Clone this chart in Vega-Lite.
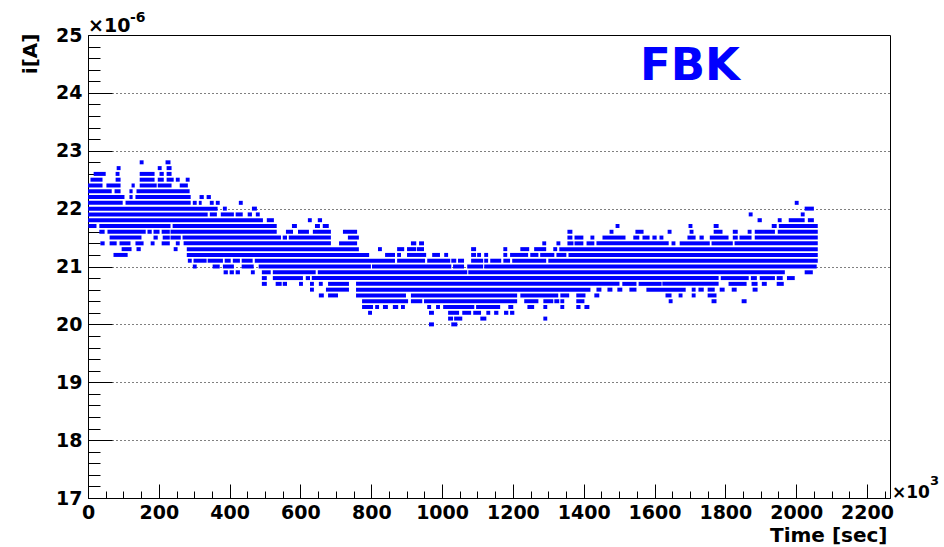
{
  "$schema": "https://vega.github.io/schema/vega-lite/v6.json",
  "autosize": {"type": "none"},
  "padding": {"left": 88, "top": 35, "right": 54, "bottom": 49},
  "width": 802,
  "height": 463,
  "background": "white",
  "config": {"view": {"stroke": "#000000", "strokeWidth": 1}},
  "layer": [
    {
      "data": {"values": [
        {"i":22.8,"t0":146,"t1":157},{"i":22.8,"t0":219,"t1":233},
        {"i":22.7,"t0":81,"t1":92},{"i":22.7,"t0":197,"t1":208},{"i":22.7,"t0":222,"t1":236},
        {"i":22.6,"t0":16,"t1":50},{"i":22.6,"t0":78,"t1":89},{"i":22.6,"t0":146,"t1":188},{"i":22.6,"t0":202,"t1":214},{"i":22.6,"t0":222,"t1":236},
        {"i":22.5,"t0":7,"t1":41},{"i":22.5,"t0":78,"t1":92},{"i":22.5,"t0":146,"t1":188},{"i":22.5,"t0":197,"t1":214},{"i":22.5,"t0":222,"t1":242},{"i":22.5,"t0":248,"t1":259},{"i":22.5,"t0":276,"t1":287},
        {"i":22.4,"t0":0,"t1":41},{"i":22.4,"t0":52,"t1":92},{"i":22.4,"t0":123,"t1":132},{"i":22.4,"t0":146,"t1":194},{"i":22.4,"t0":197,"t1":236},{"i":22.4,"t0":259,"t1":282},
        {"i":22.3,"t0":0,"t1":67},{"i":22.3,"t0":75,"t1":92},{"i":22.3,"t0":117,"t1":126},{"i":22.3,"t0":137,"t1":287},
        {"i":22.2,"t0":0,"t1":103},{"i":22.2,"t0":117,"t1":126},{"i":22.2,"t0":134,"t1":290},{"i":22.2,"t0":315,"t1":327},{"i":22.2,"t0":335,"t1":347},
        {"i":22.1,"t0":0,"t1":98},{"i":22.1,"t0":106,"t1":290},{"i":22.1,"t0":296,"t1":307},{"i":22.1,"t0":313,"t1":321},{"i":22.1,"t0":344,"t1":355},{"i":22.1,"t0":361,"t1":372},{"i":22.1,"t0":426,"t1":437},{"i":22.1,"t0":1996,"t1":2007},
        {"i":22.0,"t0":0,"t1":366},{"i":22.0,"t0":381,"t1":392},{"i":22.0,"t0":463,"t1":477},{"i":22.0,"t0":2024,"t1":2050},
        {"i":21.9,"t0":0,"t1":338},{"i":21.9,"t0":344,"t1":364},{"i":21.9,"t0":375,"t1":412},{"i":21.9,"t0":417,"t1":437},{"i":21.9,"t0":451,"t1":463},{"i":21.9,"t0":474,"t1":485},{"i":21.9,"t0":1866,"t1":1877},{"i":21.9,"t0":2013,"t1":2024},
        {"i":21.8,"t0":0,"t1":494},{"i":21.8,"t0":505,"t1":525},{"i":21.8,"t0":621,"t1":632},{"i":21.8,"t0":649,"t1":661},{"i":21.8,"t0":1891,"t1":1903},{"i":21.8,"t0":1948,"t1":1959},{"i":21.8,"t0":1979,"t1":2024},{"i":21.8,"t0":2033,"t1":2050},
        {"i":21.7,"t0":1,"t1":24},{"i":21.7,"t0":32,"t1":233},{"i":21.7,"t0":239,"t1":533},{"i":21.7,"t0":576,"t1":590},{"i":21.7,"t0":641,"t1":655},{"i":21.7,"t0":663,"t1":680},{"i":21.7,"t0":1490,"t1":1501},{"i":21.7,"t0":1696,"t1":1707},{"i":21.7,"t0":1767,"t1":1781},{"i":21.7,"t0":1931,"t1":1945},{"i":21.7,"t0":1951,"t1":2061},
        {"i":21.6,"t0":32,"t1":47},{"i":21.6,"t0":55,"t1":163},{"i":21.6,"t0":168,"t1":180},{"i":21.6,"t0":185,"t1":202},{"i":21.6,"t0":208,"t1":231},{"i":21.6,"t0":233,"t1":533},{"i":21.6,"t0":559,"t1":579},{"i":21.6,"t0":593,"t1":624},{"i":21.6,"t0":635,"t1":686},{"i":21.6,"t0":720,"t1":760},{"i":21.6,"t0":1354,"t1":1368},{"i":21.6,"t0":1473,"t1":1484},{"i":21.6,"t0":1546,"t1":1569},{"i":21.6,"t0":1637,"t1":1648},{"i":21.6,"t0":1699,"t1":1710},{"i":21.6,"t0":1767,"t1":1792},{"i":21.6,"t0":1821,"t1":1835},{"i":21.6,"t0":1863,"t1":1874},{"i":21.6,"t0":1883,"t1":1940},{"i":21.6,"t0":1948,"t1":2061},
        {"i":21.5,"t0":61,"t1":151},{"i":21.5,"t0":185,"t1":197},{"i":21.5,"t0":211,"t1":231},{"i":21.5,"t0":233,"t1":262},{"i":21.5,"t0":267,"t1":545},{"i":21.5,"t0":550,"t1":562},{"i":21.5,"t0":567,"t1":686},{"i":21.5,"t0":734,"t1":765},{"i":21.5,"t0":1354,"t1":1368},{"i":21.5,"t0":1374,"t1":1399},{"i":21.5,"t0":1419,"t1":1430},{"i":21.5,"t0":1453,"t1":1518},{"i":21.5,"t0":1540,"t1":1557},{"i":21.5,"t0":1566,"t1":1586},{"i":21.5,"t0":1594,"t1":1606},{"i":21.5,"t0":1614,"t1":1625},{"i":21.5,"t0":1693,"t1":1716},{"i":21.5,"t0":1727,"t1":1739},{"i":21.5,"t0":1756,"t1":1809},{"i":21.5,"t0":1821,"t1":1835},{"i":21.5,"t0":1840,"t1":1874},{"i":21.5,"t0":1883,"t1":2061},
        {"i":21.4,"t0":35,"t1":47},{"i":21.4,"t0":61,"t1":81},{"i":21.4,"t0":89,"t1":120},{"i":21.4,"t0":134,"t1":157},{"i":21.4,"t0":177,"t1":188},{"i":21.4,"t0":208,"t1":231},{"i":21.4,"t0":248,"t1":259},{"i":21.4,"t0":270,"t1":686},{"i":21.4,"t0":709,"t1":760},{"i":21.4,"t0":912,"t1":927},{"i":21.4,"t0":935,"t1":949},{"i":21.4,"t0":1283,"t1":1294},{"i":21.4,"t0":1323,"t1":1334},{"i":21.4,"t0":1354,"t1":1371},{"i":21.4,"t0":1374,"t1":1399},{"i":21.4,"t0":1408,"t1":1430},{"i":21.4,"t0":1436,"t1":1640},{"i":21.4,"t0":1648,"t1":1659},{"i":21.4,"t0":1671,"t1":1756},{"i":21.4,"t0":1761,"t1":1821},{"i":21.4,"t0":1826,"t1":2061},
        {"i":21.3,"t0":95,"t1":123},{"i":21.3,"t0":137,"t1":149},{"i":21.3,"t0":242,"t1":253},{"i":21.3,"t0":279,"t1":765},{"i":21.3,"t0":819,"t1":830},{"i":21.3,"t0":873,"t1":893},{"i":21.3,"t0":901,"t1":927},{"i":21.3,"t0":929,"t1":949},{"i":21.3,"t0":1082,"t1":1096},{"i":21.3,"t0":1173,"t1":1184},{"i":21.3,"t0":1221,"t1":1246},{"i":21.3,"t0":1260,"t1":1294},{"i":21.3,"t0":1314,"t1":1325},{"i":21.3,"t0":1331,"t1":2061},
        {"i":21.2,"t0":72,"t1":112},{"i":21.2,"t0":279,"t1":794},{"i":21.2,"t0":839,"t1":867},{"i":21.2,"t0":873,"t1":884},{"i":21.2,"t0":901,"t1":955},{"i":21.2,"t0":972,"t1":994},{"i":21.2,"t0":1006,"t1":1017},{"i":21.2,"t0":1082,"t1":1096},{"i":21.2,"t0":1099,"t1":1110},{"i":21.2,"t0":1119,"t1":1130},{"i":21.2,"t0":1173,"t1":1184},{"i":21.2,"t0":1192,"t1":1243},{"i":21.2,"t0":1249,"t1":1272},{"i":21.2,"t0":1277,"t1":1317},{"i":21.2,"t0":1323,"t1":1351},{"i":21.2,"t0":1357,"t1":2061},
        {"i":21.1,"t0":282,"t1":293},{"i":21.1,"t0":298,"t1":335},{"i":21.1,"t0":338,"t1":381},{"i":21.1,"t0":386,"t1":403},{"i":21.1,"t0":409,"t1":429},{"i":21.1,"t0":434,"t1":465},{"i":21.1,"t0":471,"t1":867},{"i":21.1,"t0":873,"t1":952},{"i":21.1,"t0":958,"t1":1023},{"i":21.1,"t0":1026,"t1":1040},{"i":21.1,"t0":1045,"t1":1062},{"i":21.1,"t0":1082,"t1":1116},{"i":21.1,"t0":1119,"t1":1130},{"i":21.1,"t0":1136,"t1":1167},{"i":21.1,"t0":1173,"t1":1192},{"i":21.1,"t0":1198,"t1":1294},{"i":21.1,"t0":1300,"t1":2061},
        {"i":21.0,"t0":296,"t1":307},{"i":21.0,"t0":352,"t1":372},{"i":21.0,"t0":381,"t1":412},{"i":21.0,"t0":434,"t1":468},{"i":21.0,"t0":482,"t1":799},{"i":21.0,"t0":802,"t1":1026},{"i":21.0,"t0":1031,"t1":1062},{"i":21.0,"t0":1071,"t1":1116},{"i":21.0,"t0":1119,"t1":2058},
        {"i":20.9,"t0":383,"t1":395},{"i":20.9,"t0":400,"t1":412},{"i":20.9,"t0":417,"t1":429},{"i":20.9,"t0":460,"t1":471},{"i":20.9,"t0":491,"t1":516},{"i":20.9,"t0":522,"t1":643},{"i":20.9,"t0":649,"t1":1071},{"i":20.9,"t0":1074,"t1":1968},{"i":20.9,"t0":2024,"t1":2047},
        {"i":20.8,"t0":491,"t1":505},{"i":20.8,"t0":522,"t1":607},{"i":20.8,"t0":615,"t1":627},{"i":20.8,"t0":632,"t1":1781},{"i":20.8,"t0":1787,"t1":1866},{"i":20.8,"t0":1872,"t1":1889},{"i":20.8,"t0":1897,"t1":1940},{"i":20.8,"t0":1945,"t1":1962},{"i":20.8,"t0":1974,"t1":1996},
        {"i":20.7,"t0":491,"t1":505},{"i":20.7,"t0":530,"t1":547},{"i":20.7,"t0":550,"t1":562},{"i":20.7,"t0":596,"t1":607},{"i":20.7,"t0":627,"t1":638},{"i":20.7,"t0":652,"t1":663},{"i":20.7,"t0":678,"t1":737},{"i":20.7,"t0":757,"t1":1501},{"i":20.7,"t0":1509,"t1":1549},{"i":20.7,"t0":1555,"t1":1620},{"i":20.7,"t0":1622,"t1":1781},{"i":20.7,"t0":1809,"t1":1860},{"i":20.7,"t0":1874,"t1":1891},{"i":20.7,"t0":1903,"t1":1917},{"i":20.7,"t0":1945,"t1":1965},
        {"i":20.6,"t0":627,"t1":638},{"i":20.6,"t0":672,"t1":737},{"i":20.6,"t0":757,"t1":1419},{"i":20.6,"t0":1436,"t1":1450},{"i":20.6,"t0":1467,"t1":1481},{"i":20.6,"t0":1495,"t1":1509},{"i":20.6,"t0":1529,"t1":1549},{"i":20.6,"t0":1577,"t1":1688},{"i":20.6,"t0":1705,"t1":1716},{"i":20.6,"t0":1724,"t1":1739},{"i":20.6,"t0":1750,"t1":1770},{"i":20.6,"t0":1784,"t1":1798},{"i":20.6,"t0":1818,"t1":1832},{"i":20.6,"t0":1877,"t1":1891},
        {"i":20.5,"t0":652,"t1":666},{"i":20.5,"t0":678,"t1":706},{"i":20.5,"t0":757,"t1":898},{"i":20.5,"t0":912,"t1":1212},{"i":20.5,"t0":1221,"t1":1328},{"i":20.5,"t0":1334,"t1":1359},{"i":20.5,"t0":1379,"t1":1405},{"i":20.5,"t0":1430,"t1":1444},{"i":20.5,"t0":1631,"t1":1648},{"i":20.5,"t0":1668,"t1":1679},{"i":20.5,"t0":1705,"t1":1716},{"i":20.5,"t0":1750,"t1":1775},
        {"i":20.4,"t0":774,"t1":904},{"i":20.4,"t0":912,"t1":944},{"i":20.4,"t0":949,"t1":1212},{"i":20.4,"t0":1232,"t1":1272},{"i":20.4,"t0":1286,"t1":1314},{"i":20.4,"t0":1317,"t1":1331},{"i":20.4,"t0":1334,"t1":1345},{"i":20.4,"t0":1379,"t1":1402},{"i":20.4,"t0":1640,"t1":1651},{"i":20.4,"t0":1761,"t1":1775},{"i":20.4,"t0":1846,"t1":1860},
        {"i":20.3,"t0":774,"t1":805},{"i":20.3,"t0":811,"t1":822},{"i":20.3,"t0":833,"t1":847},{"i":20.3,"t0":861,"t1":876},{"i":20.3,"t0":884,"t1":895},{"i":20.3,"t0":958,"t1":969},{"i":20.3,"t0":983,"t1":994},{"i":20.3,"t0":1003,"t1":1091},{"i":20.3,"t0":1096,"t1":1164},{"i":20.3,"t0":1187,"t1":1201},{"i":20.3,"t0":1241,"t1":1260},{"i":20.3,"t0":1286,"t1":1297},{"i":20.3,"t0":1334,"t1":1345},{"i":20.3,"t0":1379,"t1":1391},{"i":20.3,"t0":1402,"t1":1416},
        {"i":20.2,"t0":791,"t1":802},{"i":20.2,"t0":963,"t1":977},{"i":20.2,"t0":1017,"t1":1048},{"i":20.2,"t0":1057,"t1":1082},{"i":20.2,"t0":1088,"t1":1110},{"i":20.2,"t0":1125,"t1":1136},{"i":20.2,"t0":1147,"t1":1159},{"i":20.2,"t0":1175,"t1":1187},{"i":20.2,"t0":1192,"t1":1204},
        {"i":20.1,"t0":1017,"t1":1031},{"i":20.1,"t0":1034,"t1":1057},{"i":20.1,"t0":1108,"t1":1125},{"i":20.1,"t0":1286,"t1":1297},
        {"i":20.0,"t0":963,"t1":977},{"i":20.0,"t0":1026,"t1":1043}
      ]},
      "mark": {"type": "rule", "strokeWidth": 4, "strokeCap": "butt", "color": "#0000ff"},
      "encoding": {
        "x": {
          "field": "t0", "type": "quantitative",
          "scale": {"domain": [0, 2265], "nice": false, "zero": false},
          "axis": {
            "values": [0,50,100,150,200,250,300,350,400,450,500,550,600,650,700,750,800,850,900,950,1000,1050,1100,1150,1200,1250,1300,1350,1400,1450,1500,1550,1600,1650,1700,1750,1800,1850,1900,1950,2000,2050,2100,2150,2200,2250],
            "tickCount": 200,
            "labelExpr": "datum.value % 200 === 0 ? format(datum.value, 'd') : ''",
            "tickSize": {"condition": {"test": "datum.value % 200 === 0", "value": -14}, "value": -7},
            "tickColor": "#000000", "tickWidth": 1,
            "domainColor": "#000000", "domainWidth": 1,
            "grid": false,
            "labelOverlap": false, "labelFlush": false, "labelBound": false,
            "labelFont": "DejaVu Sans", "labelFontWeight": "bold", "labelFontSize": 19, "labelColor": "#000000",
            "labelPadding": 19,
            "title": "Time [sec]",
            "titleFont": "DejaVu Sans", "titleFontWeight": "bold", "titleFontSize": 20, "titleColor": "#000000",
            "titleAnchor": null, "titleAlign": "right", "titleBaseline": "alphabetic",
            "titleX": 799, "titleY": 43
          }
        },
        "x2": {"field": "t1"},
        "y": {
          "field": "i", "type": "quantitative",
          "scale": {"domain": [17, 25], "nice": false, "zero": false},
          "axis": {
            "values": [17,17.2,17.4,17.6,17.8,18,18.2,18.4,18.6,18.8,19,19.2,19.4,19.6,19.8,20,20.2,20.4,20.6,20.8,21,21.2,21.4,21.6,21.8,22,22.2,22.4,22.6,22.8,23,23.2,23.4,23.6,23.8,24,24.2,24.4,24.6,24.8,25],
            "tickCount": 200,
            "labelExpr": "abs(datum.value - round(datum.value)) < 0.001 ? format(datum.value, 'd') : ''",
            "tickSize": {"condition": {"test": "abs(datum.value - round(datum.value)) < 0.001", "value": -24}, "value": -12},
            "tickColor": "#000000", "tickWidth": 1,
            "domainColor": "#000000", "domainWidth": 1,
            "grid": true, "gridColor": "#000000", "gridDash": [1, 3], "gridWidth": 1,
            "gridOpacity": {"condition": {"test": "abs(datum.value - round(datum.value)) < 0.001 && datum.value > 17.5 && datum.value < 24.5", "value": 1}, "value": 0},
            "labelOverlap": false, "labelFlush": false, "labelBound": false,
            "labelFont": "DejaVu Sans", "labelFontWeight": "bold", "labelFontSize": 19, "labelColor": "#000000",
            "labelPadding": 30,
            "title": "i[A]",
            "titleFont": "DejaVu Sans", "titleFontWeight": "bold", "titleFontSize": 20, "titleColor": "#000000",
            "titleAnchor": null, "titleAngle": 270, "titleAlign": "right", "titleBaseline": "alphabetic",
            "titleX": -52, "titleY": -2
          }
        }
      }
    },
    {
      "data": {"values": [{}]},
      "mark": {"type": "text", "text": "FBK", "font": "DejaVu Sans", "fontWeight": "bold", "fontSize": 45, "color": "#0000ff", "align": "center", "baseline": "alphabetic"},
      "encoding": {"x": {"datum": 1700}, "y": {"datum": 24.22}}
    },
    {
      "data": {"values": [{}]},
      "mark": {"type": "text", "text": "×10", "font": "DejaVu Sans", "fontWeight": "bold", "fontSize": 19, "color": "#000000", "align": "left", "baseline": "alphabetic", "dy": -3},
      "encoding": {"x": {"datum": 0}, "y": {"datum": 25}}
    },
    {
      "data": {"values": [{}]},
      "mark": {"type": "text", "text": "-6", "font": "DejaVu Sans", "fontWeight": "bold", "fontSize": 14, "color": "#000000", "align": "left", "baseline": "alphabetic", "dx": 42, "dy": -13},
      "encoding": {"x": {"datum": 0}, "y": {"datum": 25}}
    },
    {
      "data": {"values": [{}]},
      "mark": {"type": "text", "text": "×10", "font": "DejaVu Sans", "fontWeight": "bold", "fontSize": 17, "color": "#000000", "align": "left", "baseline": "alphabetic", "dx": 2, "dy": 0},
      "encoding": {"x": {"datum": 2265}, "y": {"datum": 17}}
    },
    {
      "data": {"values": [{}]},
      "mark": {"type": "text", "text": "3", "font": "DejaVu Sans", "fontWeight": "bold", "fontSize": 13, "color": "#000000", "align": "left", "baseline": "alphabetic", "dx": 40, "dy": -13},
      "encoding": {"x": {"datum": 2265}, "y": {"datum": 17}}
    }
  ]
}
